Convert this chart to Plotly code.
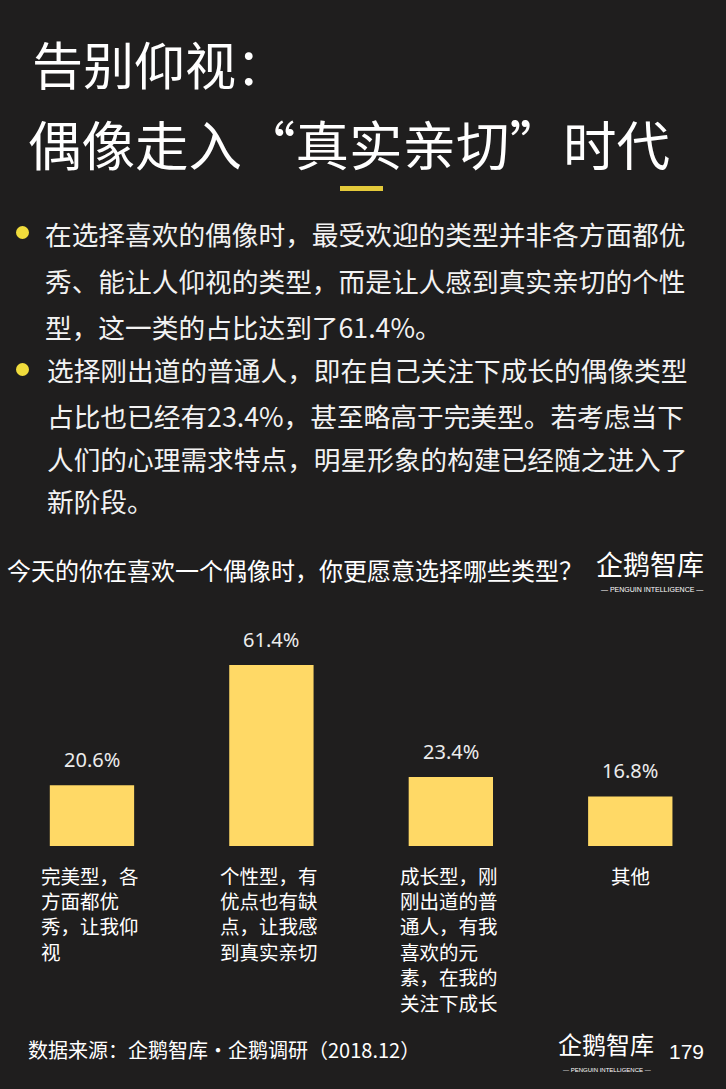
import plotly.graph_objects as go

# chart data
categories = ["完美型", "个性型", "成长型", "其他"]
values = [20.6, 61.4, 23.4, 16.8]
value_labels = ["20.6%", "61.4%", "23.4%", "16.8%"]
category_lines = [
    ["完美型，各", "方面都优", "秀，让我仰", "视"],
    ["个性型，有", "优点也有缺", "点，让我感", "到真实亲切"],
    ["成长型，刚", "刚出道的普", "通人，有我", "喜欢的元", "素，在我的", "关注下成长"],
    ["其他"],
]

title_lines = ["告别仰视：", "偶像走入“真实亲切”时代"]
bullet1 = [
    "在选择喜欢的偶像时，最受欢迎的类型并非各方面都优",
    "秀、能让人仰视的类型，而是让人感到真实亲切的个性",
    "型，这一类的占比达到了61.4%。",
]
bullet2 = [
    "选择刚出道的普通人，即在自己关注下成长的偶像类型",
    "占比也已经有23.4%，甚至略高于完美型。若考虑当下",
    "人们的心理需求特点，明星形象的构建已经随之进入了",
    "新阶段。",
]
question = "今天的你在喜欢一个偶像时，你更愿意选择哪些类型？"
source = "数据来源：企鹅智库·企鹅调研（2018.12）"
page_no = "179"

W, H = 726, 1089
BG = "#1f1e1e"
YELLOW = "#FFD966"
CJK = "Noto Sans CJK SC"


def py(p):
    # pixel row -> paper y
    return 1 - p / H


def px(p):
    return p / W


fig = go.Figure()
fig.add_trace(go.Bar(
    x=list(range(len(categories))),
    y=values,
    marker=dict(color=YELLOW, line=dict(width=0)),
    width=0.47,
    hoverinfo="skip",
))

ann = []
# title
ann.append(dict(text=title_lines[0], x=px(30), y=py(63), xanchor="left", yanchor="middle",
                font=dict(size=51, color="white", family=CJK)))
ann.append(dict(text=title_lines[1], x=px(26), y=py(143), xanchor="left", yanchor="middle",
                font=dict(size=53.5, color="white", family=CJK)))

# bullets
for line, yy in zip(bullet1, [233, 280, 326]):
    ann.append(dict(text=line, x=px(43), y=py(yy), xanchor="left", yanchor="middle",
                    font=dict(size=26.7, color="#f2f2f2", family=CJK)))
for line, yy in zip(bullet2, [369, 415, 459, 500]):
    ann.append(dict(text=line, x=px(45), y=py(yy), xanchor="left", yanchor="middle",
                    font=dict(size=26.7, color="#f2f2f2", family=CJK)))

# question + logo
ann.append(dict(text=question, x=px(5), y=py(569), xanchor="left", yanchor="middle",
                font=dict(size=24, color="white", family=CJK)))
ann.append(dict(text="企鹅智库", x=px(706), y=py(563), xanchor="right", yanchor="middle",
                font=dict(size=27, color="white", family=CJK)))
ann.append(dict(text="— PENGUIN INTELLIGENCE —", x=px(652), y=py(589), xanchor="center", yanchor="middle",
                font=dict(size=7, color="white", family="Liberation Sans")))

# value labels
for i, (v, lab) in enumerate(zip(values, value_labels)):
    ann.append(dict(text=lab, x=i, y=v, xref="x", yref="y", xanchor="center", yanchor="bottom",
                    yshift=10, font=dict(size=20, color="#ececec", family="Noto Sans")))

# category labels under bars, one annotation per line
for i, lines in enumerate(category_lines):
    for k, line in enumerate(lines):
        y0 = py(875 + k * 25.4)
        if i == len(category_lines) - 1:
            ann.append(dict(text=line, x=i, y=y0, xref="x", yref="paper", xanchor="center",
                            yanchor="middle", borderpad=0,
                            font=dict(size=19.5, color="white", family=CJK)))
        else:
            ann.append(dict(text=line, x=i - 0.29, y=y0, xref="x", yref="paper", xanchor="left",
                            yanchor="middle", borderpad=0,
                            font=dict(size=19.5, color="white", family=CJK)))

# footer
ann.append(dict(text=source, x=px(26), y=py(1049), xanchor="left", yanchor="middle",
                font=dict(size=20, color="white", family=CJK)))
ann.append(dict(text="企鹅智库", x=px(656), y=py(1043), xanchor="right", yanchor="middle",
                font=dict(size=24, color="white", family=CJK)))
ann.append(dict(text="— PENGUIN INTELLIGENCE —", x=px(607), y=py(1070), xanchor="center", yanchor="middle",
                font=dict(size=6, color="white", family="Liberation Sans")))
ann.append(dict(text=page_no, x=px(667), y=py(1051), xanchor="left", yanchor="middle",
                font=dict(size=21, color="white", family="Liberation Sans")))

for a in ann:
    a.setdefault("xref", "paper")
    a.setdefault("yref", "paper")
    a["showarrow"] = False

shapes = [
    # underline under title
    dict(type="rect", xref="paper", yref="paper", x0=px(340), x1=px(383), y0=py(191), y1=py(186),
         fillcolor="#e3c93a", line=dict(width=0)),
    # bullet dots
    dict(type="circle", xref="paper", yref="paper", x0=px(16), x1=px(29), y0=py(239), y1=py(226),
         fillcolor="#f0dc3c", line=dict(width=0)),
    dict(type="circle", xref="paper", yref="paper", x0=px(16), x1=px(29), y0=py(376), y1=py(363),
         fillcolor="#f0dc3c", line=dict(width=0)),
]

fig.update_layout(
    width=W, height=H,
    margin=dict(l=0, r=0, t=0, b=0),
    paper_bgcolor=BG, plot_bgcolor=BG,
    showlegend=False,
    annotations=ann,
    shapes=shapes,
    xaxis=dict(domain=[px(2.25), px(720)], range=[-0.5, 3.5], visible=False, fixedrange=True),
    yaxis=dict(domain=[py(846), py(639.6)], range=[0, 70], visible=False, fixedrange=True),
)

fig.write_html("out.html", config={"displayModeBar": False},
               post_script="document.body.style.margin='0';document.body.style.background='#1f1e1e';")
